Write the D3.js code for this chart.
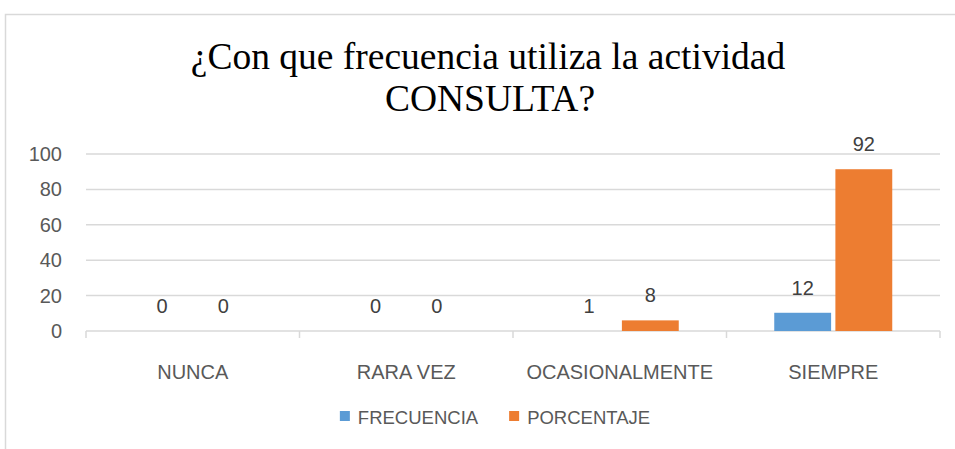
<!DOCTYPE html>
<html lang="es">
<head>
<meta charset="utf-8">
<title>Consulta</title>
<script src="https://cdn.jsdelivr.net/npm/d3@7"></script>
<style>
  body { margin: 0; background: #fff; }
  text { font-family: "Liberation Sans", Arial, sans-serif; }
  .title { font-family: "Liberation Serif", "Times New Roman", serif; font-size: 37.5px; fill: #000; }
  .tick-lbl { font-size: 20px; fill: #595959; }
  .val-lbl { font-size: 20px; fill: #404040; }
  .leg { font-size: 18.5px; fill: #595959; }
</style>
</head>
<body>
<script>
// data
var categories = ["NUNCA", "RARA VEZ", "OCASIONALMENTE", "SIEMPRE"];
var seriesNames = ["FRECUENCIA", "PORCENTAJE"];
// bar heights as drawn
var frecuencia = [0, 0, 0, 10.3];
var porcentaje = [0, 0, 6, 91.4];
// data label text as shown
var frecuenciaLbl = [0, 0, 1, 12];
var porcentajeLbl = [0, 0, 8, 92];
var yTicks = [0, 20, 40, 60, 80, 100];
var colors = ["#5b9bd5", "#ed7d31"];

var w = 955, h = 449;
var left = 86, right = 940, zeroY = 331, topY = 154;

var svg = d3.select("body").append("svg")
  .attr("width", w).attr("height", h);

// chart border
svg.append("rect")
  .attr("x", 5.5).attr("y", 14.5)
  .attr("width", 1000).attr("height", 1000)
  .attr("fill", "none").attr("stroke", "#d9d9d9").attr("stroke-width", 1.5);

// title
var title = svg.append("text").attr("class", "title").attr("text-anchor", "middle");
title.append("tspan").attr("x", 488).attr("y", 69).text("¿Con que frecuencia utiliza la actividad");
title.append("tspan").attr("x", 490).attr("y", 111).text("CONSULTA?");

var x0 = d3.scaleBand().domain(categories).range([left, right]).padding(0);
var x1 = d3.scaleBand().domain(seriesNames).range([0, 118]).paddingInner(0.07);
var y = d3.scaleLinear().domain([0, 100]).range([zeroY, topY]);

// gridlines
svg.append("g").selectAll("line")
  .data(yTicks.slice(1))
  .enter().append("line")
  .attr("x1", left).attr("x2", right)
  .attr("y1", function(d) { return y(d); })
  .attr("y2", function(d) { return y(d); })
  .attr("stroke", "#d9d9d9").attr("stroke-width", 1.5);

// y tick labels
svg.append("g").selectAll("text")
  .data(yTicks)
  .enter().append("text")
  .attr("class", "tick-lbl")
  .attr("text-anchor", "end")
  .attr("x", 62)
  .attr("y", function(d) { return y(d) + 7; })
  .text(function(d) { return d; });

// x axis
var xAxis = d3.axisBottom(x0).tickSize(0).tickPadding(0);
var gx = svg.append("g").attr("transform", "translate(0," + zeroY + ")").call(xAxis);
gx.select(".domain").remove();
gx.selectAll("text").attr("class", "tick-lbl").attr("font-size", null).attr("font-family", null)
  .attr("fill", null).attr("dy", null).attr("y", 48);

svg.append("line")
  .attr("x1", left).attr("x2", right)
  .attr("y1", zeroY).attr("y2", zeroY)
  .attr("stroke", "#d9d9d9").attr("stroke-width", 1.5);

var edges = categories.map(function(c) { return x0(c); }).concat([right]);
svg.append("g").selectAll("line")
  .data(edges)
  .enter().append("line")
  .attr("x1", function(d) { return d; }).attr("x2", function(d) { return d; })
  .attr("y1", zeroY).attr("y2", zeroY + 7)
  .attr("stroke", "#d9d9d9").attr("stroke-width", 1.5);

// bars
var rows = [];
categories.forEach(function(c, i) {
  rows.push({ cat: c, s: seriesNames[0], v: frecuencia[i], lbl: frecuenciaLbl[i], col: colors[0] });
  rows.push({ cat: c, s: seriesNames[1], v: porcentaje[i], lbl: porcentajeLbl[i], col: colors[1] });
});
function barX(d) {
  return x0(d.cat) + x0.bandwidth() / 2 - 59 + x1(d.s);
}

svg.append("g").selectAll("rect")
  .data(rows)
  .enter().append("rect")
  .attr("x", barX)
  .attr("y", function(d) { return y(d.v); })
  .attr("width", x1.bandwidth())
  .attr("height", function(d) { return zeroY - y(d.v); })
  .attr("fill", function(d) { return d.col; });

svg.append("g").selectAll("text")
  .data(rows)
  .enter().append("text")
  .attr("class", "val-lbl")
  .attr("text-anchor", "middle")
  .attr("x", function(d) { return barX(d) + x1.bandwidth() / 2; })
  .attr("y", function(d) { return y(d.v) - 18; })
  .text(function(d) { return d.lbl; });

// legend
var leg = svg.append("g");
var lx = 0;
seriesNames.forEach(function(s, i) {
  var g = leg.append("g").attr("transform", "translate(" + lx + ",0)");
  g.append("rect").attr("x", 0).attr("y", -13).attr("width", 10).attr("height", 10).attr("fill", colors[i]);
  var t = g.append("text").attr("class", "leg").attr("x", 18).attr("y", 0).text(s);
  lx += 18 + t.node().getComputedTextLength() + 31;
});
lx -= 31;
leg.attr("transform", "translate(" + (495 - lx / 2) + ",424)");
</script>
</body>
</html>
